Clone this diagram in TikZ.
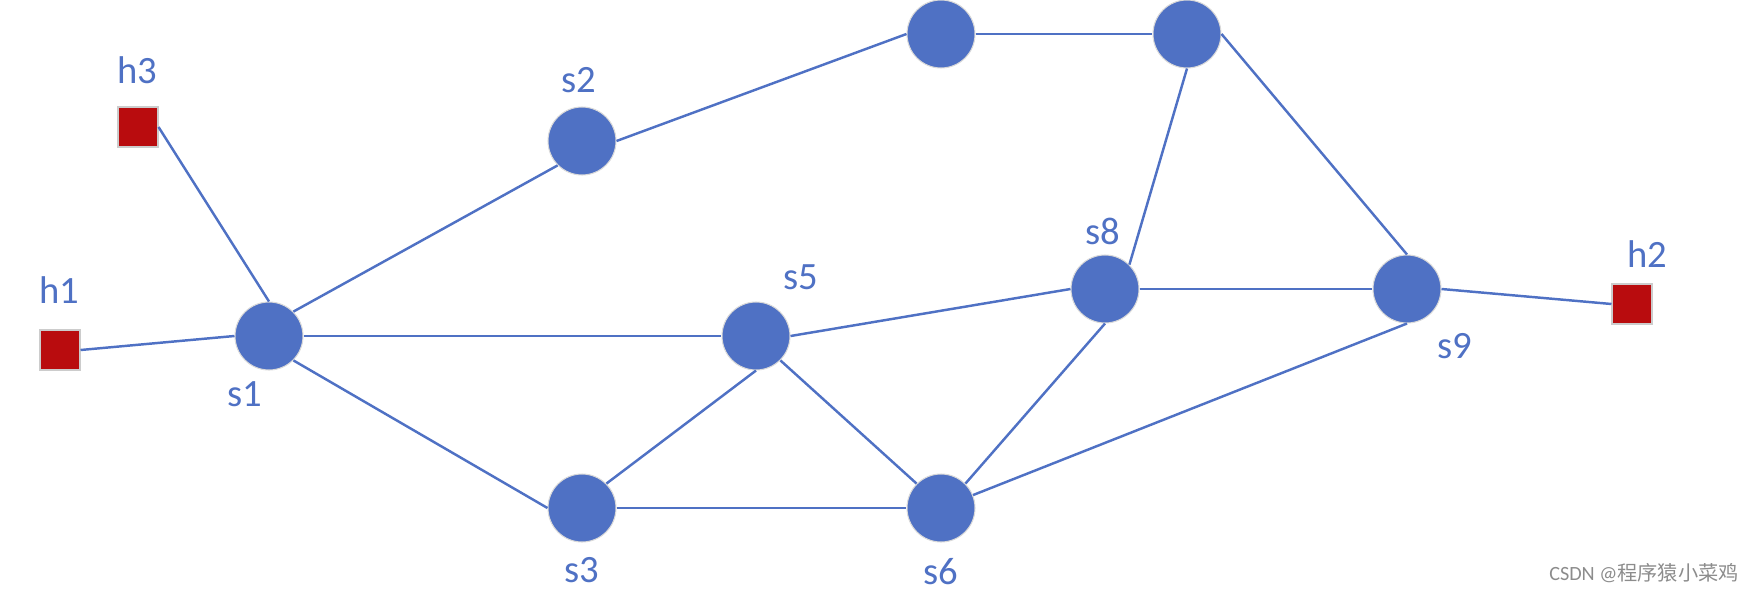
\documentclass[tikz,border=0pt]{standalone}
\usepackage{fontspec}
\setmainfont{Carlito}
\newfontfamily\cjk{Noto Sans CJK SC}
\definecolor{swblue}{HTML}{4F71C4}
\definecolor{hostred}{HTML}{B90C0E}
\tikzset{
  sw/.style={circle,fill=swblue,draw=black!15,line width=0.6pt,minimum size=1.36cm,inner sep=0pt},
  host/.style={rectangle,fill=hostred,draw=black!20,line width=0.6pt,minimum size=0.8cm,inner sep=0pt},
  lbl/.style={text=swblue,font=\fontsize{22}{24}\selectfont,inner sep=0pt},
  link/.style={draw=swblue,line width=1.4pt}
}
\begin{document}
\begin{tikzpicture}[x=0.02cm,y=-0.02cm]
\useasboundingbox (0,0) rectangle (1754,592);
\node[host] (h1) at (60,350) {};
\node[host] (h3) at (138,127) {};
\node[host] (h2) at (1632,304) {};
\node[sw] (s1) at (269,336) {};
\node[sw] (s2) at (582,141) {};
\node[sw] (t1) at (941,34) {};
\node[sw] (t2) at (1187,34) {};
\node[sw] (s5) at (756,336) {};
\node[sw] (s8) at (1105,289) {};
\node[sw] (s9) at (1407,289) {};
\node[sw] (s3) at (582,508) {};
\node[sw] (s6) at (941,508) {};
\draw[link] (h3.east) -- (s1.north);
\draw[link] (h1.east) -- (s1.west);
\draw[link] (s1.north east) -- (s2.south west);
\draw[link] (s1.east) -- (s5.west);
\draw[link] (s1.south east) -- (s3.west);
\draw[link] (s2.east) -- (t1.west);
\draw[link] (t1.east) -- (t2.west);
\draw[link] (t2.south) -- (s8.north east);
\draw[link] (t2.east) -- (s9.north);
\draw[link] (s5.east) -- (s8.west);
\draw[link] (s8.east) -- (s9.west);
\draw[link] (s9.east) -- (h2.west);
\draw[link] (s5.south) -- (s3.north east);
\draw[link] (s5.south east) -- (s6.north west);
\draw[link] (s3.east) -- (s6.west);
\draw[link] (s8.south) -- (s6.north east);
\draw[link] (s9.south) -- (s6.22);
\node[lbl] (lh3) at (137,70) {h3};
\node[lbl] (lh1) at (59,290) {h1};
\node[lbl] (lh2) at (1647,254) {h2};
\node[lbl] (ls1) at (245,394) {s1};
\node[lbl] (ls2) at (579,80) {s2};
\node[lbl] (ls5) at (801,277) {s5};
\node[lbl] (ls8) at (1103,231) {s8};
\node[lbl] (ls9) at (1455,346) {s9};
\node[lbl] (ls3) at (582,570) {s3};
\node[lbl] (ls6) at (941,572) {s6};
\node[text=black!45,font=\fontsize{11.5}{13}\selectfont,anchor=east,inner sep=0pt] (wm) at (1739,573) {CSDN @{\cjk 程序猿小菜鸡}};
\end{tikzpicture}
\end{document}
